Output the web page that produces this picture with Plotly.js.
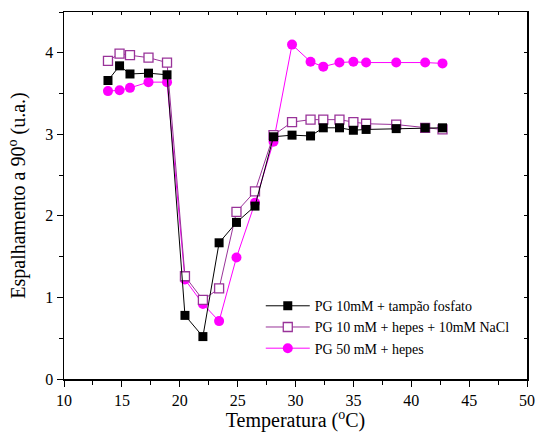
<!DOCTYPE html>
<html>
<head>
<meta charset="utf-8">
<script src="https://cdn.plot.ly/plotly-3.0.1.min.js"></script>
<style>html,body{margin:0;padding:0;background:#fff;}#chart{width:536px;height:432px;}</style>
</head>
<body>
<div id="chart"></div>
<script>
// Series 1: PG 10mM + tampão fosfato
const tempA = [13.8, 14.8, 15.7, 17.3, 18.9, 20.45, 22.0, 23.4, 24.9, 26.5, 28.1, 29.7, 31.3, 32.4, 33.8, 35.0, 36.1, 38.7, 41.2, 42.7];
const valA  = [3.66, 3.84, 3.74, 3.75, 3.73, 0.78, 0.52, 1.67, 1.92, 2.12, 2.97, 2.99, 2.98, 3.08, 3.08, 3.05, 3.06, 3.07, 3.08, 3.08];
// Series 2: PG 10 mM + hepes + 10mM NaCl
const tempB = [13.8, 14.8, 15.7, 17.3, 18.9, 20.45, 22.0, 23.4, 24.9, 26.5, 28.1, 29.7, 31.3, 32.4, 33.8, 35.0, 36.1, 38.7, 41.2, 42.7];
const valB  = [3.90, 3.99, 3.97, 3.94, 3.88, 1.26, 0.97, 1.11, 2.05, 2.30, 2.99, 3.15, 3.18, 3.18, 3.18, 3.15, 3.13, 3.12, 3.08, 3.06];
// Series 3: PG 50 mM + hepes
const tempC = [13.8, 14.8, 15.7, 17.3, 18.9, 20.45, 22.0, 23.4, 24.9, 26.5, 28.1, 29.7, 31.3, 32.4, 33.8, 35.0, 36.1, 38.7, 41.2, 42.7];
const valC  = [3.53, 3.54, 3.57, 3.64, 3.64, 1.22, 0.92, 0.71, 1.49, 2.16, 2.91, 4.10, 3.89, 3.83, 3.88, 3.89, 3.88, 3.88, 3.88, 3.87];

const names = ['PG 10mM + tampão fosfato', 'PG 10 mM + hepes + 10mM NaCl', 'PG 50 mM + hepes'];
const xTickVals = [10, 15, 20, 25, 30, 35, 40, 45, 50];
const yTickVals = [0, 1, 2, 3, 4];
const xRange = [10, 50];
const yRange = [0, 4.5];

const FONT = '"Liberation Serif", "Times New Roman", serif';

const traces = [
  {x: tempC, y: valC, name: names[2], mode: 'lines+markers',
   line: {color: '#ff00ff', width: 1}, marker: {symbol: 'circle', size: 10, color: '#ff00ff'}},
  {x: tempB, y: valB, name: names[1], mode: 'lines+markers',
   line: {color: '#993399', width: 1}, marker: {symbol: 'square', size: 9, color: '#ffffff', line: {color: '#993399', width: 1.3}}},
  {x: tempA, y: valA, name: names[0], mode: 'lines+markers',
   line: {color: '#000000', width: 1}, marker: {symbol: 'square', size: 9, color: '#000000'}},
  // invisible carrier trace so the mirrored top/right tick axes get drawn
  {x: tempA, y: valA, xaxis: 'x2', yaxis: 'y2', mode: 'none', showlegend: false, hoverinfo: 'skip'}
];

const layout = {
  width: 536, height: 432,
  margin: {l: 64, r: 9, t: 12, b: 53},
  paper_bgcolor: '#ffffff', plot_bgcolor: '#ffffff',
  font: {family: FONT, color: '#000', size: 14},
  showlegend: true,
  legend: {x: 0.425, y: 0.242, xanchor: 'left', yanchor: 'top', traceorder: 'reversed',
           font: {family: FONT, size: 14, color: '#000'}, bgcolor: 'rgba(0,0,0,0)', tracegroupgap: 0, itemwidth: 44},
  xaxis: {
    range: xRange, tickmode: 'array', tickvals: xTickVals, ticktext: xTickVals.map(String),
    ticks: 'outside', ticklen: 6, tickwidth: 1, tickcolor: '#000',
    minor: {dtick: 2.5, ticks: 'outside', ticklen: 4, tickcolor: '#000'},
    showline: true, linecolor: '#000', linewidth: 1.5, mirror: true,
    showgrid: false, zeroline: false,
    tickfont: {family: FONT, size: 16},
    title: {text: 'Temperatura (<sup>o</sup>C)', font: {family: FONT, size: 20}, standoff: 8}
  },
  yaxis: {
    range: yRange, tickmode: 'array', tickvals: yTickVals, ticktext: yTickVals.map(String),
    ticks: 'outside', ticklen: 6, tickwidth: 1, tickcolor: '#000',
    minor: {dtick: 0.5, ticks: 'outside', ticklen: 4, tickcolor: '#000'},
    showline: true, linecolor: '#000', linewidth: 1.5, mirror: true,
    showgrid: false, zeroline: false,
    tickfont: {family: FONT, size: 16},
    title: {text: 'Espalhamento a 90<sup>o</sup> (u.a.)', font: {family: FONT, size: 20}, standoff: 14}
  },
  xaxis2: {
    overlaying: 'x', side: 'top', anchor: 'y', range: xRange, tickmode: 'linear', dtick: 2.5, tick0: 10,
    ticks: 'inside', ticklen: 3, tickcolor: '#000', showticklabels: false,
    showline: false, showgrid: false, zeroline: false
  },
  yaxis2: {
    overlaying: 'y', side: 'right', anchor: 'x', range: yRange, tickmode: 'linear', dtick: 0.5, tick0: 0,
    ticks: 'inside', ticklen: 3, tickcolor: '#000', showticklabels: false,
    showline: false, showgrid: false, zeroline: false
  }
};

Plotly.newPlot('chart', traces, layout, {displayModeBar: false, staticPlot: true});
</script>
</body>
</html>
